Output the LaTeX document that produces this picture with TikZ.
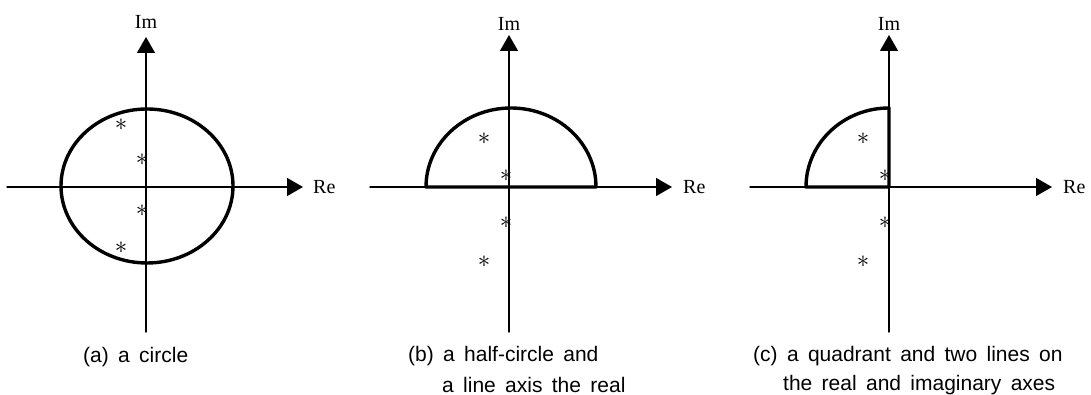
\documentclass[tikz,border=0pt]{standalone}
\usepackage{fontspec}
\setmainfont{Liberation Serif}
\newfontfamily\capfont[WordSpace=1.6]{Liberation Sans}
\usetikzlibrary{arrows.meta,positioning}

\tikzset{
  axis/.style={line width=1.4pt, -{Triangle[length=16pt,width=18pt]}},
  contour/.style={line width=3.4pt, line join=round, line cap=round},
  pole/.style={inner sep=0pt, font=\fontsize{24}{24}\selectfont},
  axlabel/.style={inner sep=0pt, font=\fontsize{20}{20}\selectfont},
  caption/.style={anchor=west, inner sep=0pt, font=\capfont\fontsize{21}{21}\selectfont},
}

\begin{document}
\begin{tikzpicture}[x=1pt, y=1pt, line cap=round, line join=round]

\useasboundingbox (0,0) rectangle (1091,395);

% ---------------------------------------------------------
% Parameters
% ---------------------------------------------------------
\pgfmathsetmacro{\Rx}{85}      % horizontal radius of contour
\pgfmathsetmacro{\Ry}{79}      % vertical radius of contour
\pgfmathsetmacro{\Xl}{-139}    % left end of real axis
\pgfmathsetmacro{\Yb}{-145}    % lower end of imaginary axis

% ---------------------------------------------------------
% (a) circle
% ---------------------------------------------------------
\begin{scope}[shift={(146,208)}]
  \coordinate (Oa) at (0,0);
  \coordinate (xa) at (157,0);
  \coordinate (ya) at (0,150);

  \draw[axis] (\Xl,0) -- (xa);                     % real axis
  \draw[axis] (0,\Yb) -- (ya);                     % imaginary axis

  \draw[contour] (1,1) ellipse [x radius=86, y radius=77];

  \node[pole] (pa1) at (-25,62)  {$\ast$};
  \node[pole] (pa2) at (-4,27)   {$\ast$};
  \node[pole] (pa3) at (-4,-24)  {$\ast$};
  \node[pole] (pa4) at (-25,-61) {$\ast$};

  \node[axlabel, above=8pt of ya] (ima) {Im};
  \node[axlabel, right=10pt of xa] (rea) {Re};

  \node[caption] (capa) at (-63,-170) {(a) a circle};
\end{scope}

% ---------------------------------------------------------
% (b) half-circle
% ---------------------------------------------------------
\begin{scope}[shift={(509,208)}]
  \coordinate (Ob) at (0,0);
  \coordinate (xb) at (163,0);
  \coordinate (yb) at (0,152);

  \draw[axis] (\Xl,0) -- (xb);                     % real axis
  \draw[axis] (0,\Yb) -- (yb);                     % imaginary axis

  \draw[contour] (87,0)
    arc[start angle=0, end angle=180, x radius=\Rx, y radius=\Ry] -- cycle;

  \node[pole] (pb1) at (-25,48)  {$\ast$};
  \node[pole] (pb2) at (-3,11)   {$\ast$};
  \node[pole] (pb3) at (-3,-36)  {$\ast$};
  \node[pole] (pb4) at (-25,-75) {$\ast$};

  \node[axlabel, above=4pt of yb] (imb) {Im};
  \node[axlabel, right=11pt of xb] (reb) {Re};

  \node[caption] (capb1) at (-101,-169) {(b) a half-circle and};
  \node[caption] (capb2) at (-67,-198)  {a line axis the real};
\end{scope}

% ---------------------------------------------------------
% (c) quadrant
% ---------------------------------------------------------
\begin{scope}[shift={(889,208)}]
  \coordinate (Oc) at (0,0);
  \coordinate (xc) at (163,0);
  \coordinate (yc) at (0,152);

  \draw[axis] (\Xl,0) -- (xc);                     % real axis
  \draw[axis] (0,\Yb) -- (yc);                     % imaginary axis

  \draw[contour] (Oc) -- (0,\Ry)
    arc[start angle=90, end angle=180, x radius=83, y radius=\Ry] -- cycle;

  \node[pole] (pc1) at (-26,48)  {$\ast$};
  \node[pole] (pc2) at (-4,11)   {$\ast$};
  \node[pole] (pc3) at (-4,-36)  {$\ast$};
  \node[pole] (pc4) at (-26,-75) {$\ast$};

  \node[axlabel, above=4pt of yc] (imc) {Im};
  \node[axlabel, right=11pt of xc] (rec) {Re};

  \node[caption] (capc1) at (-136,-169) {(c) a quadrant and two lines on};
  \node[caption] (capc2) at (-106,-198) {the real and imaginary axes};
\end{scope}

\end{tikzpicture}
\end{document}
